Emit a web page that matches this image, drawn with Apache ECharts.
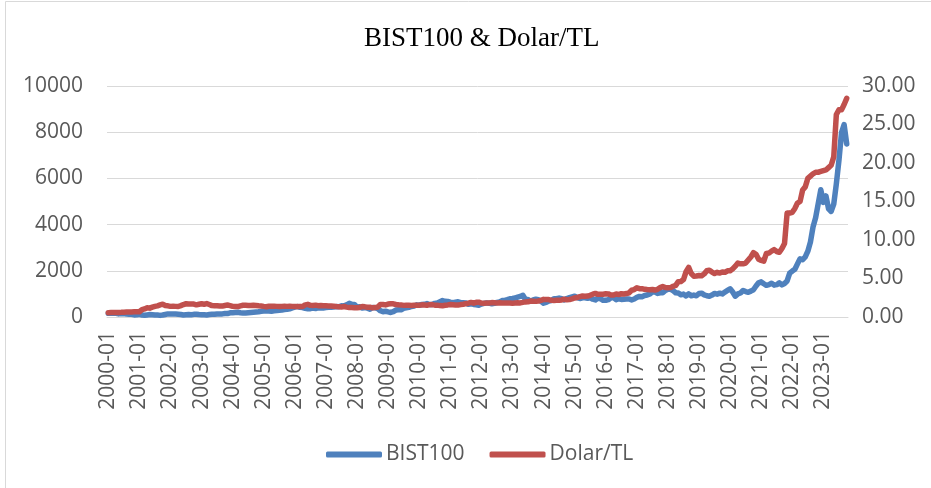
<!DOCTYPE html>
<html>
<head>
<meta charset="utf-8">
<script src="https://cdn.jsdelivr.net/npm/echarts@6/dist/echarts.min.js"></script>
<style>
html,body{margin:0;padding:0;background:#fff;}
#chart{width:931px;height:488px;}
</style>
</head>
<body>
<div id="chart"></div>
<script>
// monthly values, 2000-01 .. 2023-10
let years = [2000,2001,2002,2003,2004,2005,2006,2007,2008,2009,2010,2011,2012,2013,2014,2015,2016,2017,2018,2019,2020,2021,2022,2023];

let bist100 = [
    160,165,170,160,135,150,145,125,120,115,90,95,
    120,85,75,90,105,100,90,85,70,85,110,135,
    130,125,125,115,105,85,95,105,95,115,120,105,
    100,95,90,105,115,115,130,130,135,150,150,180,
    185,195,205,185,170,175,185,195,205,215,225,245,
    255,265,260,250,265,280,295,305,325,330,355,395,
    430,450,420,410,375,355,360,385,370,395,385,390,
    405,420,425,435,450,445,485,480,525,590,545,545,
    430,440,385,410,385,340,410,400,360,270,230,250,
    220,195,230,300,315,310,375,395,415,455,470,525,
    510,540,550,580,540,540,590,610,660,710,680,670,
    640,620,640,660,620,620,610,550,570,545,530,510,
    560,590,610,600,570,590,630,650,710,720,750,790,
    800,820,860,890,940,760,760,680,740,770,750,680,
    600,630,690,710,790,790,820,790,740,800,840,870,
    900,840,800,830,830,810,830,770,740,820,790,720,
    720,750,830,840,750,790,760,770,780,780,740,780,
    850,890,880,930,950,1000,1080,1090,1020,1050,1050,1150,
    1200,1210,1140,1050,1040,960,990,910,1000,920,950,920,
    1020,1030,960,920,900,950,1020,990,1030,1000,1080,1150,
    1220,1080,900,1000,1040,1150,1100,1070,1120,1180,1340,1480,
    1520,1440,1370,1400,1460,1380,1400,1480,1390,1450,1560,1900,
    1990,2070,2300,2520,2480,2600,2850,3250,3900,4300,4900,5510,
    4960,5240,4680,4570,4890,5760,6780,7980,8330,7490
];

let dolarTL = [
    0.56,0.57,0.58,0.59,0.60,0.61,0.63,0.64,0.65,0.66,0.68,0.67,
    0.68,0.95,1.05,1.20,1.15,1.28,1.38,1.45,1.57,1.66,1.50,1.45,
    1.38,1.40,1.38,1.36,1.48,1.62,1.72,1.68,1.70,1.68,1.58,1.66,
    1.72,1.66,1.74,1.62,1.48,1.45,1.45,1.42,1.42,1.50,1.55,1.48,
    1.38,1.37,1.35,1.45,1.52,1.52,1.50,1.50,1.53,1.50,1.45,1.43,
    1.38,1.34,1.40,1.40,1.40,1.38,1.37,1.38,1.39,1.38,1.40,1.38,
    1.36,1.36,1.38,1.36,1.58,1.64,1.52,1.50,1.54,1.47,1.49,1.46,
    1.45,1.44,1.42,1.39,1.36,1.34,1.31,1.36,1.28,1.22,1.24,1.20,
    1.21,1.24,1.36,1.32,1.26,1.26,1.19,1.22,1.29,1.63,1.63,1.57,
    1.68,1.72,1.71,1.62,1.58,1.57,1.51,1.53,1.52,1.50,1.52,1.53,
    1.52,1.58,1.55,1.52,1.60,1.61,1.54,1.54,1.48,1.46,1.52,1.57,
    1.63,1.60,1.57,1.55,1.61,1.65,1.73,1.79,1.89,1.79,1.90,1.92,
    1.81,1.79,1.82,1.81,1.87,1.85,1.83,1.85,1.83,1.83,1.82,1.82,
    1.80,1.82,1.84,1.83,1.90,1.96,1.97,2.07,2.06,2.03,2.08,2.17,
    2.29,2.26,2.26,2.16,2.14,2.16,2.18,2.21,2.31,2.25,2.27,2.36,
    2.47,2.53,2.65,2.72,2.70,2.72,2.81,2.96,3.06,2.94,2.94,2.96,
    3.01,3.00,2.86,2.85,2.99,2.92,3.03,3.00,3.04,3.14,3.47,3.56,
    3.80,3.68,3.68,3.59,3.56,3.55,3.57,3.50,3.60,3.82,3.96,3.83,
    3.81,3.82,3.99,4.10,4.59,4.61,4.86,5.90,6.45,5.65,5.30,5.32,
    5.39,5.35,5.60,6.00,6.08,5.84,5.65,5.80,5.70,5.85,5.80,6.00,
    6.00,6.25,6.60,7.00,6.90,6.90,7.00,7.40,7.80,8.35,8.15,7.50,
    7.35,7.25,8.25,8.30,8.55,8.75,8.50,8.40,8.90,9.55,13.50,13.50,
    13.60,14.10,14.80,15.00,16.50,16.90,18.00,18.30,18.60,18.80,18.80,18.90,
    19.00,19.10,19.40,19.70,20.80,26.30,26.90,26.90,27.60,28.40
];

let months = [];
for (let i = 0; i < years.length; i++) {
    for (let m = 1; m <= 12; m++) {
        if (months.length < bist100.length) {
            months.push(years[i] + '-' + (m < 10 ? '0' + m : m));
        }
    }
}

let textColor = '#595959';
let font = 'Open Sans';

let option = {
    backgroundColor: '#fff',
    animation: false,
    graphic: [{
        type: 'rect',
        shape: {x: 5.5, y: 1.5, width: 960, height: 520},
        style: {fill: 'none', stroke: '#d9d9d9', lineWidth: 1}
    }],
    title: {
        text: 'BIST100 & Dolar/TL',
        left: 359,
        top: 20,
        textStyle: {
            fontFamily: 'Liberation Serif',
            fontSize: 27,
            fontWeight: 'normal',
            color: '#000'
        }
    },
    legend: {
        data: ['BIST100', 'Dolar/TL'],
        left: 321,
        top: 439,
        icon: 'roundRect',
        itemWidth: 56,
        itemHeight: 6,
        itemGap: 25,
        textStyle: {fontFamily: font, fontSize: 21, color: textColor, padding: [0, 0, 0, -1]}
    },
    grid: {
        left: 107,
        right: 83,
        top: 86,
        bottom: 171
    },
    xAxis: [{
        type: 'category',
        data: months,
        axisTick: {show: false},
        axisLine: {lineStyle: {color: '#d9d9d9', width: 1}},
        axisLabel: {
            interval: 11,
            rotate: 90,
            margin: 14,
            fontFamily: font,
            fontSize: 21,
            color: textColor
        }
    }],
    yAxis: [{
        type: 'value',
        min: 0,
        max: 10000,
        interval: 2000,
        axisLine: {show: false},
        axisTick: {show: false},
        axisLabel: {
            margin: 24,
            fontFamily: font,
            fontSize: 21,
            color: textColor,
            formatter: function (v) { return String(v); }
        },
        splitLine: {lineStyle: {color: '#d9d9d9', width: 1}}
    }, {
        type: 'value',
        min: 0,
        max: 30,
        interval: 5,
        axisLine: {show: false},
        axisTick: {show: false},
        axisLabel: {
            margin: 14,
            fontFamily: font,
            fontSize: 21,
            color: textColor,
            formatter: function (v) { return v.toFixed(2); }
        },
        splitLine: {show: false}
    }],
    series: [{
        name: 'BIST100',
        type: 'line',
        data: bist100,
        symbol: 'none',
        color: '#4f81bd',
        lineStyle: {width: 5.5, color: '#4f81bd', cap: 'round', join: 'round'}
    }, {
        name: 'Dolar/TL',
        type: 'line',
        yAxisIndex: 1,
        data: dolarTL,
        symbol: 'none',
        color: '#c0504d',
        lineStyle: {width: 5.5, color: '#c0504d', cap: 'round', join: 'round'}
    }]
};

let myChart = echarts.init(document.getElementById('chart'));
myChart.setOption(option);
</script>
</body>
</html>
